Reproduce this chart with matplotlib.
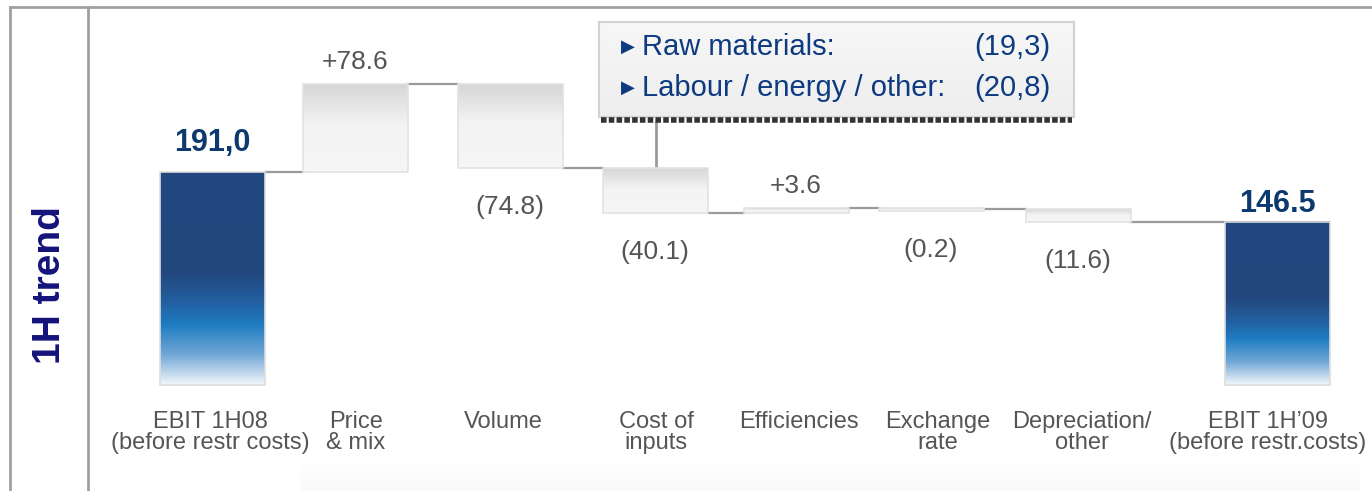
import numpy as np
import matplotlib.pyplot as plt
from matplotlib.colors import LinearSegmentedColormap
from matplotlib.patches import Rectangle

plt.rcParams['font.family'] = ['Liberation Sans', 'DejaVu Sans']

# data
categories = ['EBIT 1H08\n(before restr costs)', 'Price\n& mix', 'Volume', 'Cost of\ninputs',
              'Efficiencies', 'Exchange\nrate', 'Depreciation/\nother',
              'EBIT 1H\u201909\n(before restr.costs)']
start_value = 191.0
changes = [78.6, -74.8, -40.1, 3.6, -0.2, -11.6]
end_value = 146.5
total_labels = ['191,0', '146.5']
callout_items = ['Raw materials:', 'Labour / energy / other:']
callout_values = ['(19,3)', '(20,8)']
side_title = '1H trend'

# layout (pixels)
W, H = 1372, 491
bar_x = [212, 355, 510, 655, 796, 931, 1078, 1277]
label_x = [210, 356, 503, 656, 799, 938, 1082, 1268]
bar_w = 105
base_px = 385
px_per_unit = 1.115


def v2px(v):
    return base_px - v * px_per_unit


total_cmap = LinearSegmentedColormap.from_list('tot', [
    (0.0, '#22467f'), (0.48, '#23487f'), (0.62, '#2262a4'),
    (0.72, '#1f7dc2'), (0.86, '#73a8d6'), (1.0, '#f2f7fb')])
step_cmap = LinearSegmentedColormap.from_list('stp', [
    (0.0, '#d6d6d6'), (0.45, '#f3f3f3'), (1.0, '#f6f6f6')])

fig = plt.figure(figsize=(W / 100, H / 100), dpi=100)
ax = fig.add_axes([0, 0, 1, 1])
ax.set_xlim(0, W)
ax.set_ylim(H, 0)
ax.axis('off')

grad = np.linspace(0, 1, 256).reshape(-1, 1)


def draw_bar(xc, top, bottom, cmap, edge):
    x0, x1 = xc - bar_w / 2, xc + bar_w / 2
    ax.imshow(grad, cmap=cmap, extent=(x0, x1, bottom, top), aspect='auto', zorder=2)
    ax.add_patch(Rectangle((x0, top), bar_w, bottom - top, fill=False,
                           edgecolor=edge, lw=1.2, zorder=3))


# faint band at the bottom
band_cmap = LinearSegmentedColormap.from_list('band', ['#ffffff', '#fafafa'])
ax.imshow(grad, cmap=band_cmap, extent=(300, 1360, H, 458), aspect='auto', zorder=0)

# totals
draw_bar(bar_x[0], v2px(start_value), base_px, total_cmap, '#dddddd')
draw_bar(bar_x[-1], v2px(end_value), base_px, total_cmap, '#dddddd')
for xc, val, lab, off in zip([bar_x[0], bar_x[-1]], [start_value, end_value],
                             total_labels, [29, 18]):
    ax.text(xc, v2px(val) - off, lab, ha='center', va='center', fontsize=22,
            fontweight='bold', color='#0d3a6e')

# steps
level = start_value
for i, ch in enumerate(changes):
    xc = bar_x[i + 1]
    new_level = level + ch
    # connector from previous bar
    ax.plot([bar_x[i] + bar_w / 2, xc - bar_w / 2], [v2px(level)] * 2,
            color='#9a9a9a', lw=1.6, zorder=1)
    top, bottom = v2px(max(level, new_level)), v2px(min(level, new_level))
    if bottom - top < 3:
        bottom = top + 3
    draw_bar(xc, top, bottom, step_cmap, '#e2e2e2')
    if ch > 0:
        ax.text(xc, top - 22, f'+{ch:.1f}', ha='center', va='center',
                fontsize=19, color='#555555')
    else:
        ax.text(xc, bottom + 39, f'({abs(ch):.1f})', ha='center', va='center',
                fontsize=19, color='#555555')
    level = new_level
ax.plot([bar_x[-2] + bar_w / 2, bar_x[-1] - bar_w / 2], [v2px(level)] * 2,
        color='#9a9a9a', lw=1.6, zorder=1)

# category labels
for xc, cat in zip(label_x, categories):
    ax.text(xc, 411, cat, ha='center', va='top', fontsize=17, color='#555555',
            linespacing=0.95)

# frame
ax.plot([10, W], [7, 7], color='#a0a0a0', lw=2, zorder=5)
ax.plot([10, 10], [7, H], color='#a0a0a0', lw=2, zorder=5)
ax.plot([88, 88], [7, H], color='#a0a0a0', lw=2, zorder=5)
ax.text(50, 285, side_title, rotation=90, ha='center', va='center', fontsize=28,
        fontweight='bold', color='#13137a')

# callout box
bx0, bx1, by0, by1 = 599, 1074, 22, 117
box_cmap = LinearSegmentedColormap.from_list('box', ['#f7f7f7', '#eeeeee'])
ax.imshow(grad, cmap=box_cmap, extent=(bx0, bx1, by1, by0), aspect='auto', zorder=4)
ax.add_patch(Rectangle((bx0, by0), bx1 - bx0, by1 - by0, fill=False,
                       edgecolor='#d2d2d2', lw=1.5, zorder=5))
ax.plot([bx0 + 2, bx1 - 2], [by1 + 3, by1 + 3], color='#333333', lw=4,
        linestyle=(0, (1.0, 0.4)), zorder=5)
ax.plot([656, 656], [by1 + 5, v2px(start_value + changes[0] + changes[1])],
        color='#9a9a9a', lw=2, zorder=1)
for j, (item, val) in enumerate(zip(callout_items, callout_values)):
    yy = 47 + j * 41
    ax.text(628, yy, '\u25B6', ha='center', va='center', fontsize=13,
            color='#0d3a80', zorder=6)
    ax.text(642, yy, item, ha='left', va='center', fontsize=21,
            color='#0d3a80', zorder=6)
    ax.text(1050, yy, val, ha='right', va='center', fontsize=21,
            color='#0d3a80', zorder=6)

plt.savefig('out.png', dpi=100)
